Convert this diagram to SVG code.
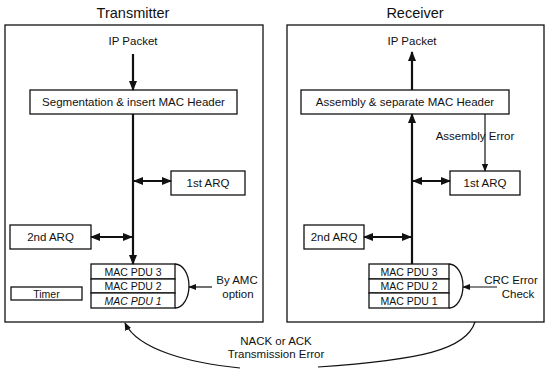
<svg xmlns="http://www.w3.org/2000/svg" width="547" height="374" viewBox="0 0 547 374">
<style>
text{font-family:"Liberation Sans",Arial,sans-serif;fill:#111}
.title{font-size:14.5px}
.lbl{font-size:11.5px}
.small{font-size:10.5px}
.box{fill:#fff;stroke:#111;stroke-width:1.3}
.frame{fill:none;stroke:#111;stroke-width:1.3}
.thick{fill:none;stroke:#111;stroke-width:2.2}
.thin{fill:none;stroke:#111;stroke-width:1.2}
</style>
<defs>
<marker id="ah" viewBox="0 0 10 10" refX="9" refY="5" markerWidth="10" markerHeight="10" markerUnits="userSpaceOnUse" orient="auto-start-reverse">
<path d="M0,1 L10,5 L0,9 Z" fill="#111"/>
</marker>
<marker id="ahs" viewBox="0 0 10 10" refX="9" refY="5" markerWidth="8" markerHeight="8" markerUnits="userSpaceOnUse" orient="auto-start-reverse">
<path d="M0,1 L10,5 L0,9 Z" fill="#111"/>
</marker>
</defs>

<g id="transmitter">
<text class="title" x="133" y="18" text-anchor="middle">Transmitter</text>
<rect class="frame" x="5" y="25" width="258" height="297"/>
<text class="lbl" x="133" y="45" text-anchor="middle">IP Packet</text>
</g>
<g id="seg">
<rect class="box" x="30" y="90" width="207" height="24"/>
<text class="lbl" x="133.5" y="106" text-anchor="middle">Segmentation &amp; insert MAC Header</text>
</g>
<g id="tx-arq1">
<rect class="box" x="171" y="171" width="74" height="24"/>
<text class="lbl" x="208" y="187" text-anchor="middle">1st ARQ</text>
</g>
<g id="tx-arq2">
<rect class="box" x="10" y="225" width="81" height="24"/>
<text class="lbl" x="50.5" y="241" text-anchor="middle">2nd ARQ</text>
</g>
<g id="tx-timer">
<rect class="box" x="11" y="287" width="71" height="13"/>
<text class="small" x="46.5" y="297.5" text-anchor="middle">Timer</text>
</g>
<g id="tx-stack">
<path class="box" d="M175,264 A14,22 0 0 1 175,308"/>
<rect class="box" x="91" y="264" width="84" height="15"/>
<rect class="box" x="91" y="279" width="84" height="14"/>
<rect class="box" x="91" y="293" width="84" height="15"/>
<text class="small" x="133" y="275.5" text-anchor="middle">MAC PDU 3</text>
<text class="small" x="133" y="290" text-anchor="middle">MAC PDU 2</text>
<text class="small" x="133" y="304.5" text-anchor="middle" font-style="italic">MAC PDU 1</text>
</g>
<g id="tx-amc">
<text class="lbl" x="237" y="284" text-anchor="middle">By AMC</text>
<text class="lbl" x="238" y="298" text-anchor="middle">option</text>
</g>

<g id="receiver">
<text class="title" x="415" y="18" text-anchor="middle">Receiver</text>
<rect class="frame" x="287" y="25" width="257" height="297"/>
<text class="lbl" x="412" y="45" text-anchor="middle">IP Packet</text>
</g>
<g id="asm">
<rect class="box" x="301" y="90" width="208" height="24"/>
<text class="lbl" x="405" y="106" text-anchor="middle">Assembly &amp; separate MAC Header</text>
</g>
<g id="rx-arq1">
<rect class="box" x="450" y="171" width="70" height="24"/>
<text class="lbl" x="485" y="187" text-anchor="middle">1st ARQ</text>
</g>
<g id="rx-arq2">
<rect class="box" x="304" y="225" width="60" height="24"/>
<text class="lbl" x="334" y="241" text-anchor="middle">2nd ARQ</text>
</g>
<g id="rx-stack">
<path class="box" d="M449,264 A14,22 0 0 1 449,308"/>
<rect class="box" x="369" y="264" width="80" height="15"/>
<rect class="box" x="369" y="279" width="80" height="14"/>
<rect class="box" x="369" y="293" width="80" height="15"/>
<text class="small" x="409" y="275.5" text-anchor="middle">MAC PDU 3</text>
<text class="small" x="409" y="290" text-anchor="middle">MAC PDU 2</text>
<text class="small" x="409" y="304.5" text-anchor="middle">MAC PDU 1</text>
</g>
<g id="rx-crc">
<text class="lbl" x="511" y="284" text-anchor="middle">CRC Error</text>
<text class="lbl" x="518" y="298" text-anchor="middle">Check</text>
</g>
<g id="feedback-label">
<text class="lbl" x="276" y="345" text-anchor="middle">NACK or ACK</text>
<text class="lbl" x="276" y="358" text-anchor="middle">Transmission Error</text>
</g>

<g id="connectors">
<line class="thick" x1="133" y1="54" x2="133" y2="90" marker-end="url(#ah)"/>
<line class="thick" x1="133" y1="114" x2="133" y2="264" marker-end="url(#ah)"/>
<line class="thick" x1="134" y1="181" x2="171" y2="181" marker-start="url(#ah)" marker-end="url(#ah)"/>
<line class="thick" x1="91" y1="237" x2="132" y2="237" marker-start="url(#ah)" marker-end="url(#ah)"/>
<line class="thin" x1="212" y1="287" x2="189" y2="287" marker-end="url(#ahs)"/>

<line class="thick" x1="412" y1="90" x2="412" y2="52" marker-end="url(#ah)"/>
<line class="thick" x1="412" y1="264" x2="412" y2="114" marker-end="url(#ah)"/>
<line class="thin" x1="485" y1="114" x2="485" y2="171" marker-end="url(#ahs)"/>
<text class="lbl" x="475" y="140" text-anchor="middle">Assembly Error</text>
<line class="thick" x1="413" y1="181" x2="450" y2="181" marker-start="url(#ah)" marker-end="url(#ah)"/>
<line class="thick" x1="364" y1="237" x2="411" y2="237" marker-start="url(#ah)" marker-end="url(#ah)"/>
<line class="thin" x1="497" y1="287" x2="463" y2="287" marker-end="url(#ahs)"/>

<path class="thin" d="M240,368 C190,363 138,350 125,323" marker-end="url(#ahs)"/>
<path class="thin" d="M318,367 C420,360 466,350 475,322"/>
</g>
</svg>
